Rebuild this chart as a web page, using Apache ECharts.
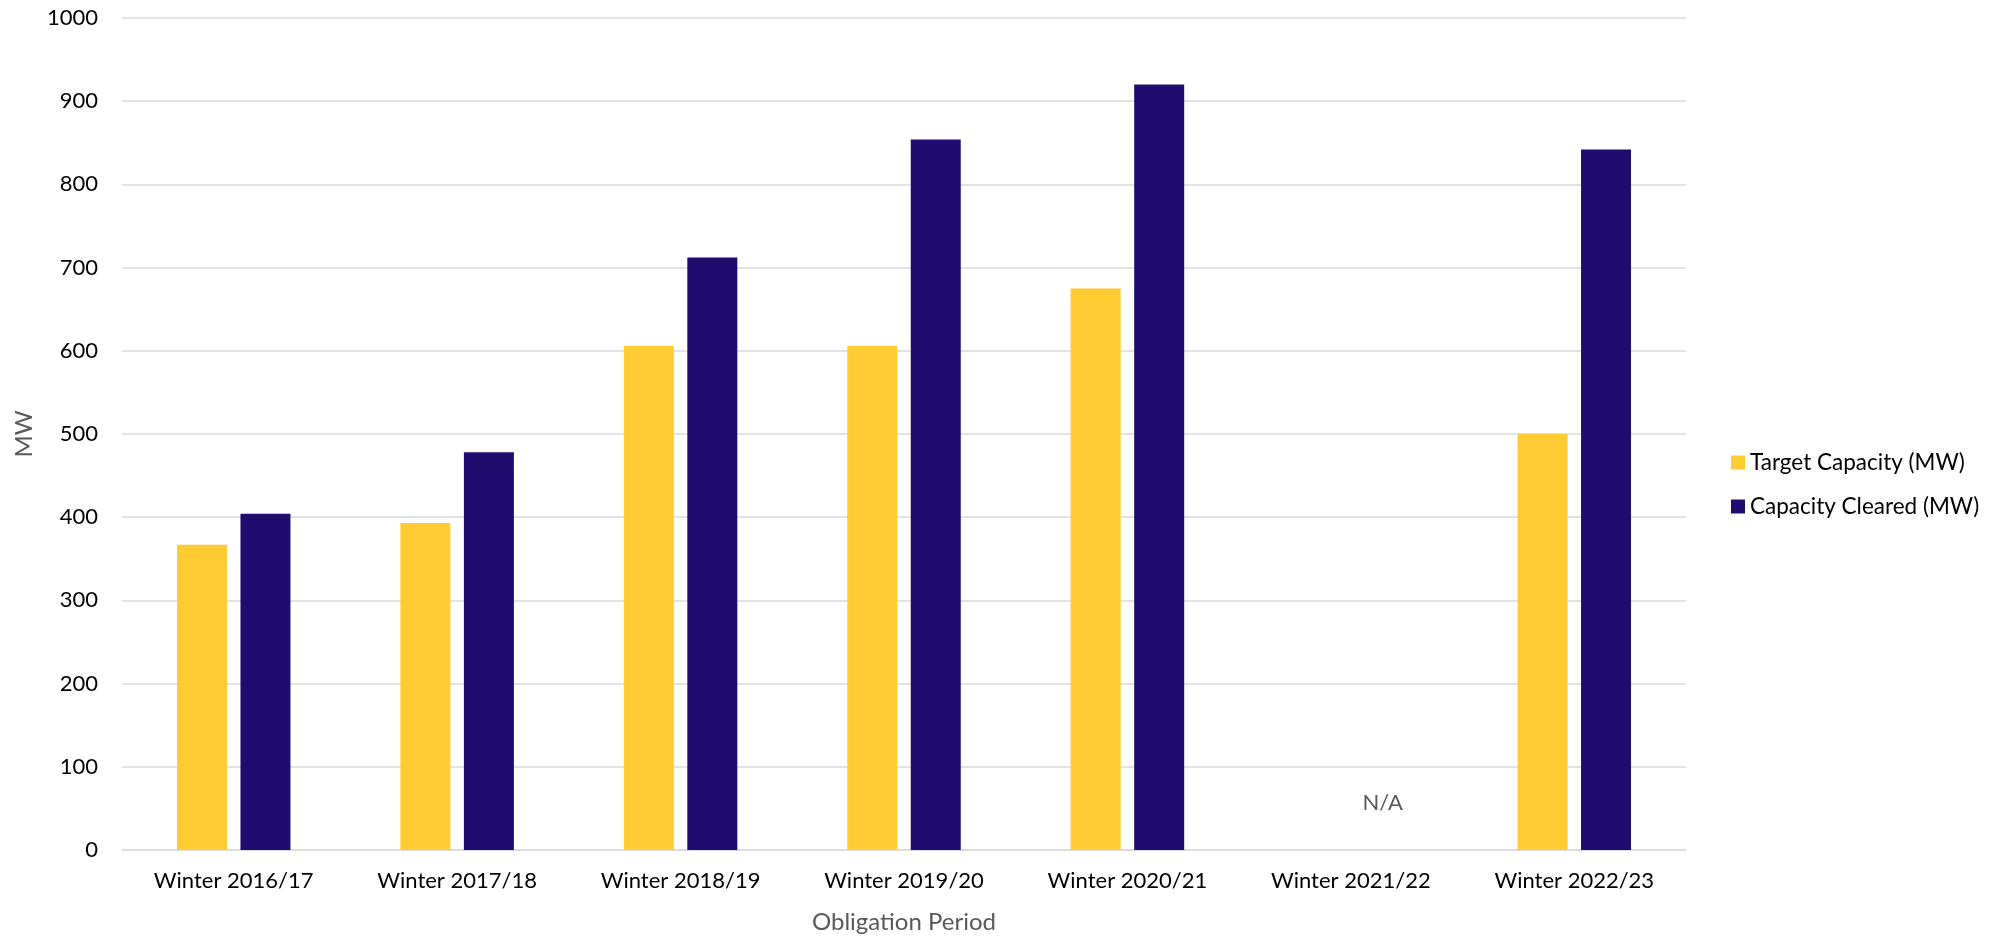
<!DOCTYPE html>
<html>
<head>
<meta charset="utf-8">
<script src="https://cdn.jsdelivr.net/npm/echarts@6/dist/echarts.min.js"></script>
<style>
  html, body { margin: 0; padding: 0; background: #ffffff; }
  #chart { width: 1990px; height: 939px; }
</style>
</head>
<body>
<div id="chart"></div>
<script>
// Obligation periods on the category axis
const periods = [
  'Winter 2016/17', 'Winter 2017/18', 'Winter 2018/19', 'Winter 2019/20',
  'Winter 2020/21', 'Winter 2021/22', 'Winter 2022/23'
];
// Target capacity per period (MW); no auction for 2021/22
const targetCapacity = [367, 393, 606, 606, 675, null, 500];
// Capacity cleared per period (MW)
const capacityCleared = [404, 478, 712, 854, 920, null, 842];
// Period with no auction, marked with a text note
const naPeriod = 'Winter 2021/22';
const naText = 'N/A';
const naLevel = 57;

const FONT = 'Lato';
const chart = echarts.init(document.getElementById('chart'), null, { renderer: 'canvas' });

chart.setOption({
  backgroundColor: '#ffffff',
  animation: false,
  textStyle: { fontFamily: FONT },
  grid: { left: 122, right: 304, top: 18, bottom: 85, containLabel: false },
  legend: {
    orient: 'vertical',
    left: 1726,
    top: 446,
    itemWidth: 14,
    itemHeight: 14,
    itemGap: 21,
    icon: 'rect',
    textStyle: { fontFamily: FONT, fontSize: 22.5, color: '#000000' },
    data: ['Target Capacity (MW)', 'Capacity Cleared (MW)']
  },
  xAxis: {
    type: 'category',
    data: periods,
    name: 'Obligation Period',
    nameLocation: 'middle',
    nameGap: 60,
    nameTextStyle: { fontFamily: FONT, fontSize: 24, color: '#595959' },
    axisLine: { show: true, lineStyle: { color: '#d9d9d9', width: 1.5 } },
    axisTick: { show: false },
    axisLabel: { fontFamily: FONT, fontSize: 22, color: '#000000', margin: 20 }
  },
  yAxis: {
    type: 'value',
    min: 0,
    max: 1000,
    interval: 100,
    name: 'MW',
    nameLocation: 'middle',
    nameGap: 75,
    nameTextStyle: { fontFamily: FONT, fontSize: 24, color: '#595959' },
    axisLine: { show: false },
    axisTick: { show: false },
    axisLabel: {
      fontFamily: FONT, fontSize: 22, color: '#000000', margin: 24,
      formatter: function (v) { return String(v); }
    },
    splitLine: { show: true, lineStyle: { color: '#d9d9d9', width: 1.5 } }
  },
  series: [
    {
      name: 'Target Capacity (MW)',
      type: 'bar',
      data: targetCapacity,
      barWidth: 50,
      barGap: '27%',
      itemStyle: { color: '#FFCB32' }
    },
    {
      name: 'Capacity Cleared (MW)',
      type: 'bar',
      data: capacityCleared,
      barWidth: 50,
      barGap: '27%',
      itemStyle: { color: '#200C6E' },
      markPoint: {
        symbol: 'rect',
        symbolSize: 0,
        silent: true,
        data: [{
          coord: [naPeriod, naLevel],
          label: {
            show: true,
            formatter: naText,
            position: 'inside',
            fontFamily: FONT,
            fontSize: 22,
            color: '#595959'
          }
        }]
      }
    }
  ]
});
</script>
</body>
</html>
